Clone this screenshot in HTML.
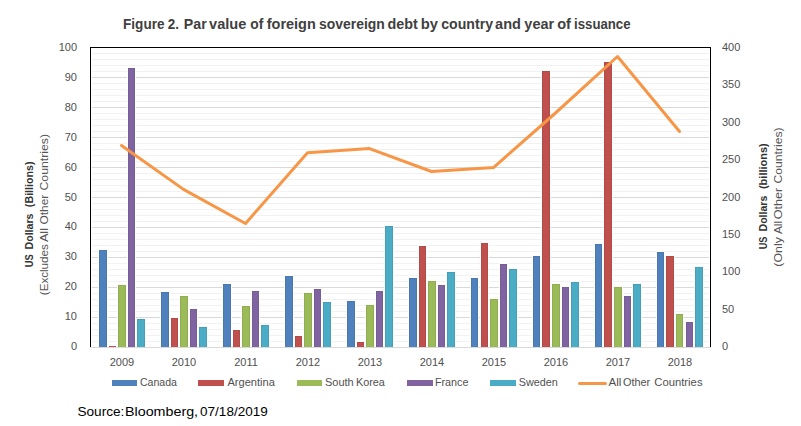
<!DOCTYPE html><html><head><meta charset="utf-8"><style>html,body{margin:0;padding:0;background:#fff;overflow:hidden}svg{display:block}</style></head><body>
<svg width="801" height="426" viewBox="0 0 801 426">
<rect width="801" height="426" fill="#fff"/>
<g shape-rendering="crispEdges"><rect x="92" y="53" width="617" height="1" fill="#F2F2F2"/><rect x="92" y="59" width="617" height="1" fill="#F2F2F2"/><rect x="92" y="65" width="617" height="1" fill="#F2F2F2"/><rect x="92" y="71" width="617" height="1" fill="#F2F2F2"/><rect x="92" y="77" width="617" height="1" fill="#D9D9D9"/><rect x="92" y="83" width="617" height="1" fill="#F2F2F2"/><rect x="92" y="89" width="617" height="1" fill="#F2F2F2"/><rect x="92" y="95" width="617" height="1" fill="#F2F2F2"/><rect x="92" y="101" width="617" height="1" fill="#F2F2F2"/><rect x="92" y="107" width="617" height="1" fill="#D9D9D9"/><rect x="92" y="113" width="617" height="1" fill="#F2F2F2"/><rect x="92" y="119" width="617" height="1" fill="#F2F2F2"/><rect x="92" y="125" width="617" height="1" fill="#F2F2F2"/><rect x="92" y="131" width="617" height="1" fill="#F2F2F2"/><rect x="92" y="137" width="617" height="1" fill="#D9D9D9"/><rect x="92" y="143" width="617" height="1" fill="#F2F2F2"/><rect x="92" y="149" width="617" height="1" fill="#F2F2F2"/><rect x="92" y="155" width="617" height="1" fill="#F2F2F2"/><rect x="92" y="161" width="617" height="1" fill="#F2F2F2"/><rect x="92" y="167" width="617" height="1" fill="#D9D9D9"/><rect x="92" y="173" width="617" height="1" fill="#F2F2F2"/><rect x="92" y="179" width="617" height="1" fill="#F2F2F2"/><rect x="92" y="185" width="617" height="1" fill="#F2F2F2"/><rect x="92" y="191" width="617" height="1" fill="#F2F2F2"/><rect x="92" y="197" width="617" height="1" fill="#D9D9D9"/><rect x="92" y="203" width="617" height="1" fill="#F2F2F2"/><rect x="92" y="209" width="617" height="1" fill="#F2F2F2"/><rect x="92" y="215" width="617" height="1" fill="#F2F2F2"/><rect x="92" y="221" width="617" height="1" fill="#F2F2F2"/><rect x="92" y="227" width="617" height="1" fill="#D9D9D9"/><rect x="92" y="233" width="617" height="1" fill="#F2F2F2"/><rect x="92" y="239" width="617" height="1" fill="#F2F2F2"/><rect x="92" y="245" width="617" height="1" fill="#F2F2F2"/><rect x="92" y="251" width="617" height="1" fill="#F2F2F2"/><rect x="92" y="257" width="617" height="1" fill="#D9D9D9"/><rect x="92" y="263" width="617" height="1" fill="#F2F2F2"/><rect x="92" y="269" width="617" height="1" fill="#F2F2F2"/><rect x="92" y="275" width="617" height="1" fill="#F2F2F2"/><rect x="92" y="281" width="617" height="1" fill="#F2F2F2"/><rect x="92" y="287" width="617" height="1" fill="#D9D9D9"/><rect x="92" y="293" width="617" height="1" fill="#F2F2F2"/><rect x="92" y="299" width="617" height="1" fill="#F2F2F2"/><rect x="92" y="305" width="617" height="1" fill="#F2F2F2"/><rect x="92" y="311" width="617" height="1" fill="#F2F2F2"/><rect x="92" y="317" width="617" height="1" fill="#D9D9D9"/><rect x="92" y="323" width="617" height="1" fill="#F2F2F2"/><rect x="92" y="329" width="617" height="1" fill="#F2F2F2"/><rect x="92" y="335" width="617" height="1" fill="#F2F2F2"/><rect x="92" y="341" width="617" height="1" fill="#F2F2F2"/></g>
<g shape-rendering="crispEdges"><rect x="98" y="249" width="10" height="98" fill="#fff"/><rect x="99" y="250" width="8" height="97" fill="#4977AF"/><rect x="100" y="251" width="6" height="96" fill="#4F81BD"/><rect x="108" y="345" width="9" height="2" fill="#fff"/><rect x="109" y="346" width="7" height="1" fill="#C0504D"/><rect x="117" y="284" width="10" height="63" fill="#fff"/><rect x="118" y="285" width="8" height="62" fill="#90AD52"/><rect x="119" y="286" width="6" height="61" fill="#9BBB59"/><rect x="127" y="67" width="9" height="280" fill="#fff"/><rect x="128" y="68" width="7" height="279" fill="#775D96"/><rect x="129" y="69" width="5" height="278" fill="#8064A2"/><rect x="136" y="318" width="10" height="29" fill="#fff"/><rect x="137" y="319" width="8" height="28" fill="#459FB8"/><rect x="138" y="320" width="6" height="27" fill="#4BACC6"/><rect x="160" y="291" width="10" height="56" fill="#fff"/><rect x="161" y="292" width="8" height="55" fill="#4977AF"/><rect x="162" y="293" width="6" height="54" fill="#4F81BD"/><rect x="170" y="317" width="9" height="30" fill="#fff"/><rect x="171" y="318" width="7" height="29" fill="#B24A47"/><rect x="172" y="319" width="5" height="28" fill="#C0504D"/><rect x="179" y="295" width="10" height="52" fill="#fff"/><rect x="180" y="296" width="8" height="51" fill="#90AD52"/><rect x="181" y="297" width="6" height="50" fill="#9BBB59"/><rect x="189" y="308" width="9" height="39" fill="#fff"/><rect x="190" y="309" width="7" height="38" fill="#775D96"/><rect x="191" y="310" width="5" height="37" fill="#8064A2"/><rect x="198" y="326" width="10" height="21" fill="#fff"/><rect x="199" y="327" width="8" height="20" fill="#459FB8"/><rect x="200" y="328" width="6" height="19" fill="#4BACC6"/><rect x="222" y="283" width="10" height="64" fill="#fff"/><rect x="223" y="284" width="8" height="63" fill="#4977AF"/><rect x="224" y="285" width="6" height="62" fill="#4F81BD"/><rect x="232" y="329" width="9" height="18" fill="#fff"/><rect x="233" y="330" width="7" height="17" fill="#B24A47"/><rect x="234" y="331" width="5" height="16" fill="#C0504D"/><rect x="241" y="305" width="10" height="42" fill="#fff"/><rect x="242" y="306" width="8" height="41" fill="#90AD52"/><rect x="243" y="307" width="6" height="40" fill="#9BBB59"/><rect x="251" y="290" width="9" height="57" fill="#fff"/><rect x="252" y="291" width="7" height="56" fill="#775D96"/><rect x="253" y="292" width="5" height="55" fill="#8064A2"/><rect x="260" y="324" width="10" height="23" fill="#fff"/><rect x="261" y="325" width="8" height="22" fill="#459FB8"/><rect x="262" y="326" width="6" height="21" fill="#4BACC6"/><rect x="284" y="275" width="10" height="72" fill="#fff"/><rect x="285" y="276" width="8" height="71" fill="#4977AF"/><rect x="286" y="277" width="6" height="70" fill="#4F81BD"/><rect x="294" y="335" width="9" height="12" fill="#fff"/><rect x="295" y="336" width="7" height="11" fill="#B24A47"/><rect x="296" y="337" width="5" height="10" fill="#C0504D"/><rect x="303" y="292" width="10" height="55" fill="#fff"/><rect x="304" y="293" width="8" height="54" fill="#90AD52"/><rect x="305" y="294" width="6" height="53" fill="#9BBB59"/><rect x="313" y="288" width="9" height="59" fill="#fff"/><rect x="314" y="289" width="7" height="58" fill="#775D96"/><rect x="315" y="290" width="5" height="57" fill="#8064A2"/><rect x="322" y="301" width="10" height="46" fill="#fff"/><rect x="323" y="302" width="8" height="45" fill="#459FB8"/><rect x="324" y="303" width="6" height="44" fill="#4BACC6"/><rect x="346" y="300" width="10" height="47" fill="#fff"/><rect x="347" y="301" width="8" height="46" fill="#4977AF"/><rect x="348" y="302" width="6" height="45" fill="#4F81BD"/><rect x="356" y="341" width="9" height="6" fill="#fff"/><rect x="357" y="342" width="7" height="5" fill="#B24A47"/><rect x="358" y="343" width="5" height="4" fill="#C0504D"/><rect x="365" y="304" width="10" height="43" fill="#fff"/><rect x="366" y="305" width="8" height="42" fill="#90AD52"/><rect x="367" y="306" width="6" height="41" fill="#9BBB59"/><rect x="375" y="290" width="9" height="57" fill="#fff"/><rect x="376" y="291" width="7" height="56" fill="#775D96"/><rect x="377" y="292" width="5" height="55" fill="#8064A2"/><rect x="384" y="225" width="10" height="122" fill="#fff"/><rect x="385" y="226" width="8" height="121" fill="#459FB8"/><rect x="386" y="227" width="6" height="120" fill="#4BACC6"/><rect x="408" y="277" width="10" height="70" fill="#fff"/><rect x="409" y="278" width="8" height="69" fill="#4977AF"/><rect x="410" y="279" width="6" height="68" fill="#4F81BD"/><rect x="418" y="245" width="9" height="102" fill="#fff"/><rect x="419" y="246" width="7" height="101" fill="#B24A47"/><rect x="420" y="247" width="5" height="100" fill="#C0504D"/><rect x="427" y="280" width="10" height="67" fill="#fff"/><rect x="428" y="281" width="8" height="66" fill="#90AD52"/><rect x="429" y="282" width="6" height="65" fill="#9BBB59"/><rect x="437" y="284" width="9" height="63" fill="#fff"/><rect x="438" y="285" width="7" height="62" fill="#775D96"/><rect x="439" y="286" width="5" height="61" fill="#8064A2"/><rect x="446" y="271" width="10" height="76" fill="#fff"/><rect x="447" y="272" width="8" height="75" fill="#459FB8"/><rect x="448" y="273" width="6" height="74" fill="#4BACC6"/><rect x="470" y="277" width="9" height="70" fill="#fff"/><rect x="471" y="278" width="7" height="69" fill="#4977AF"/><rect x="472" y="279" width="5" height="68" fill="#4F81BD"/><rect x="480" y="242" width="9" height="105" fill="#fff"/><rect x="481" y="243" width="7" height="104" fill="#B24A47"/><rect x="482" y="244" width="5" height="103" fill="#C0504D"/><rect x="489" y="298" width="10" height="49" fill="#fff"/><rect x="490" y="299" width="8" height="48" fill="#90AD52"/><rect x="491" y="300" width="6" height="47" fill="#9BBB59"/><rect x="499" y="263" width="9" height="84" fill="#fff"/><rect x="500" y="264" width="7" height="83" fill="#775D96"/><rect x="501" y="265" width="5" height="82" fill="#8064A2"/><rect x="508" y="268" width="10" height="79" fill="#fff"/><rect x="509" y="269" width="8" height="78" fill="#459FB8"/><rect x="510" y="270" width="6" height="77" fill="#4BACC6"/><rect x="532" y="255" width="9" height="92" fill="#fff"/><rect x="533" y="256" width="7" height="91" fill="#4977AF"/><rect x="534" y="257" width="5" height="90" fill="#4F81BD"/><rect x="541" y="70" width="10" height="277" fill="#fff"/><rect x="542" y="71" width="8" height="276" fill="#B24A47"/><rect x="543" y="72" width="6" height="275" fill="#C0504D"/><rect x="551" y="283" width="10" height="64" fill="#fff"/><rect x="552" y="284" width="8" height="63" fill="#90AD52"/><rect x="553" y="285" width="6" height="62" fill="#9BBB59"/><rect x="561" y="286" width="9" height="61" fill="#fff"/><rect x="562" y="287" width="7" height="60" fill="#775D96"/><rect x="563" y="288" width="5" height="59" fill="#8064A2"/><rect x="570" y="281" width="10" height="66" fill="#fff"/><rect x="571" y="282" width="8" height="65" fill="#459FB8"/><rect x="572" y="283" width="6" height="64" fill="#4BACC6"/><rect x="594" y="243" width="9" height="104" fill="#fff"/><rect x="595" y="244" width="7" height="103" fill="#4977AF"/><rect x="596" y="245" width="5" height="102" fill="#4F81BD"/><rect x="603" y="61" width="10" height="286" fill="#fff"/><rect x="604" y="62" width="8" height="285" fill="#B24A47"/><rect x="605" y="63" width="6" height="284" fill="#C0504D"/><rect x="613" y="286" width="10" height="61" fill="#fff"/><rect x="614" y="287" width="8" height="60" fill="#90AD52"/><rect x="615" y="288" width="6" height="59" fill="#9BBB59"/><rect x="623" y="295" width="9" height="52" fill="#fff"/><rect x="624" y="296" width="7" height="51" fill="#775D96"/><rect x="625" y="297" width="5" height="50" fill="#8064A2"/><rect x="632" y="283" width="10" height="64" fill="#fff"/><rect x="633" y="284" width="8" height="63" fill="#459FB8"/><rect x="634" y="285" width="6" height="62" fill="#4BACC6"/><rect x="656" y="251" width="9" height="96" fill="#fff"/><rect x="657" y="252" width="7" height="95" fill="#4977AF"/><rect x="658" y="253" width="5" height="94" fill="#4F81BD"/><rect x="665" y="255" width="10" height="92" fill="#fff"/><rect x="666" y="256" width="8" height="91" fill="#B24A47"/><rect x="667" y="257" width="6" height="90" fill="#C0504D"/><rect x="675" y="313" width="9" height="34" fill="#fff"/><rect x="676" y="314" width="7" height="33" fill="#90AD52"/><rect x="677" y="315" width="5" height="32" fill="#9BBB59"/><rect x="685" y="321" width="9" height="26" fill="#fff"/><rect x="686" y="322" width="7" height="25" fill="#775D96"/><rect x="687" y="323" width="5" height="24" fill="#8064A2"/><rect x="694" y="266" width="10" height="81" fill="#fff"/><rect x="695" y="267" width="8" height="80" fill="#459FB8"/><rect x="696" y="268" width="6" height="79" fill="#4BACC6"/></g>
<g shape-rendering="crispEdges"><rect x="90" y="347" width="621" height="1" fill="#D9D9D9"/><rect x="90" y="47" width="621" height="1" fill="#000"/><rect x="90" y="47" width="1" height="300" fill="#000"/><rect x="710" y="47" width="1" height="300" fill="#000"/></g>
<polyline points="121.5,145.5 183.5,189.4 245.5,223.5 307.5,152.7 369.5,148.6 431.5,171.5 493.5,167.6 555.5,113 617.5,56.5 679.5,131.5" fill="none" stroke="#F79646" stroke-width="3" stroke-linejoin="round" stroke-linecap="round"/>
<g font-family='"Liberation Sans", sans-serif' font-weight="bold" font-size="14" fill="#404040"><text x="123.09" y="28.5" textLength="41.37" lengthAdjust="spacingAndGlyphs">Figure</text><text x="167.73" y="28.5" textLength="11.19" lengthAdjust="spacingAndGlyphs">2.</text><text x="183.85" y="28.5" textLength="22.87" lengthAdjust="spacingAndGlyphs">Par</text><text x="209.14" y="28.5" textLength="37.26" lengthAdjust="spacingAndGlyphs">value</text><text x="250.26" y="28.5" textLength="13.02" lengthAdjust="spacingAndGlyphs">of</text><text x="266.75" y="28.5" textLength="49.05" lengthAdjust="spacingAndGlyphs">foreign</text><text x="319.0" y="28.5" textLength="65.76" lengthAdjust="spacingAndGlyphs">sovereign</text><text x="387.42" y="28.5" textLength="30.26" lengthAdjust="spacingAndGlyphs">debt</text><text x="420.83" y="28.5" textLength="17.25" lengthAdjust="spacingAndGlyphs">by</text><text x="441.25" y="28.5" textLength="51.73" lengthAdjust="spacingAndGlyphs">country</text><text x="495.07" y="28.5" textLength="25.88" lengthAdjust="spacingAndGlyphs">and</text><text x="524.39" y="28.5" textLength="29.73" lengthAdjust="spacingAndGlyphs">year</text><text x="557.23" y="28.5" textLength="13.74" lengthAdjust="spacingAndGlyphs">of</text><text x="574.08" y="28.5" textLength="56.47" lengthAdjust="spacingAndGlyphs">issuance</text></g>
<text x="77" y="350.0" text-anchor="end" font-family='"Liberation Sans", sans-serif' font-size="11" fill="#505050">0</text>
<text x="77" y="320.1" text-anchor="end" font-family='"Liberation Sans", sans-serif' font-size="11" fill="#505050">10</text>
<text x="77" y="290.2" text-anchor="end" font-family='"Liberation Sans", sans-serif' font-size="11" fill="#505050">20</text>
<text x="77" y="260.3" text-anchor="end" font-family='"Liberation Sans", sans-serif' font-size="11" fill="#505050">30</text>
<text x="77" y="230.4" text-anchor="end" font-family='"Liberation Sans", sans-serif' font-size="11" fill="#505050">40</text>
<text x="77" y="200.5" text-anchor="end" font-family='"Liberation Sans", sans-serif' font-size="11" fill="#505050">50</text>
<text x="77" y="170.6" text-anchor="end" font-family='"Liberation Sans", sans-serif' font-size="11" fill="#505050">60</text>
<text x="77" y="140.7" text-anchor="end" font-family='"Liberation Sans", sans-serif' font-size="11" fill="#505050">70</text>
<text x="77" y="110.8" text-anchor="end" font-family='"Liberation Sans", sans-serif' font-size="11" fill="#505050">80</text>
<text x="77" y="80.9" text-anchor="end" font-family='"Liberation Sans", sans-serif' font-size="11" fill="#505050">90</text>
<text x="77" y="51.0" text-anchor="end" font-family='"Liberation Sans", sans-serif' font-size="11" fill="#505050">100</text>
<text x="722" y="350" font-family='"Liberation Sans", sans-serif' font-size="11" fill="#505050">0</text>
<text x="722" y="313" font-family='"Liberation Sans", sans-serif' font-size="11" fill="#505050">50</text>
<text x="722" y="275" font-family='"Liberation Sans", sans-serif' font-size="11" fill="#505050">100</text>
<text x="722" y="238" font-family='"Liberation Sans", sans-serif' font-size="11" fill="#505050">150</text>
<text x="722" y="201" font-family='"Liberation Sans", sans-serif' font-size="11" fill="#505050">200</text>
<text x="722" y="163" font-family='"Liberation Sans", sans-serif' font-size="11" fill="#505050">250</text>
<text x="722" y="126" font-family='"Liberation Sans", sans-serif' font-size="11" fill="#505050">300</text>
<text x="722" y="88" font-family='"Liberation Sans", sans-serif' font-size="11" fill="#505050">350</text>
<text x="722" y="51" font-family='"Liberation Sans", sans-serif' font-size="11" fill="#505050">400</text>
<text x="122" y="365.8" text-anchor="middle" font-family='"Liberation Sans", sans-serif' font-size="11" fill="#505050">2009</text>
<text x="184" y="365.8" text-anchor="middle" font-family='"Liberation Sans", sans-serif' font-size="11" fill="#505050">2010</text>
<text x="246" y="365.8" text-anchor="middle" font-family='"Liberation Sans", sans-serif' font-size="11" fill="#505050">2011</text>
<text x="308" y="365.8" text-anchor="middle" font-family='"Liberation Sans", sans-serif' font-size="11" fill="#505050">2012</text>
<text x="370" y="365.8" text-anchor="middle" font-family='"Liberation Sans", sans-serif' font-size="11" fill="#505050">2013</text>
<text x="432" y="365.8" text-anchor="middle" font-family='"Liberation Sans", sans-serif' font-size="11" fill="#505050">2014</text>
<text x="494" y="365.8" text-anchor="middle" font-family='"Liberation Sans", sans-serif' font-size="11" fill="#505050">2015</text>
<text x="556" y="365.8" text-anchor="middle" font-family='"Liberation Sans", sans-serif' font-size="11" fill="#505050">2016</text>
<text x="618" y="365.8" text-anchor="middle" font-family='"Liberation Sans", sans-serif' font-size="11" fill="#505050">2017</text>
<text x="680" y="365.8" text-anchor="middle" font-family='"Liberation Sans", sans-serif' font-size="11" fill="#505050">2018</text>
<g transform="translate(32.5,0) rotate(-90)" font-family='"Liberation Sans", sans-serif' font-weight="bold" font-size="11" fill="#333333"><text x="-267.16" y="0" textLength="12.92" lengthAdjust="spacingAndGlyphs">US</text><text x="-249.52" y="0" textLength="36.05" lengthAdjust="spacingAndGlyphs">Dollars</text><text x="-207.13" y="0" textLength="45.66" lengthAdjust="spacingAndGlyphs">(Billions)</text></g>
<g transform="translate(48,0) rotate(-90)" font-family='"Liberation Sans", sans-serif' font-weight="normal" font-size="11" fill="#555555"><text x="-295.22" y="0" textLength="51.04" lengthAdjust="spacingAndGlyphs">(Excludes</text><text x="-242.12" y="0" textLength="14.07" lengthAdjust="spacingAndGlyphs">All</text><text x="-224.56" y="0" textLength="29.76" lengthAdjust="spacingAndGlyphs">Other</text><text x="-190.52" y="0" textLength="56.58" lengthAdjust="spacingAndGlyphs">Countries)</text></g>
<g transform="translate(766.5,0) rotate(-90)" font-family='"Liberation Sans", sans-serif' font-weight="bold" font-size="11" fill="#333333"><text x="-249.35" y="0" textLength="12.81" lengthAdjust="spacingAndGlyphs">US</text><text x="-231.41" y="0" textLength="35.64" lengthAdjust="spacingAndGlyphs">Dollars</text><text x="-189.05" y="0" textLength="45.8" lengthAdjust="spacingAndGlyphs">(billions)</text></g>
<g transform="translate(782,0) rotate(-90)" font-family='"Liberation Sans", sans-serif' font-weight="normal" font-size="11" fill="#555555"><text x="-266.67" y="0" textLength="29.59" lengthAdjust="spacingAndGlyphs">(Only</text><text x="-234.12" y="0" textLength="13.22" lengthAdjust="spacingAndGlyphs">All</text><text x="-219.19" y="0" textLength="31.4" lengthAdjust="spacingAndGlyphs">Other</text><text x="-183.42" y="0" textLength="55.97" lengthAdjust="spacingAndGlyphs">Countries)</text></g>
<rect x="112" y="380" width="25" height="6" fill="#4F81BD"/>
<rect x="198" y="380" width="26" height="6" fill="#C0504D"/>
<rect x="297" y="380" width="25" height="6" fill="#9BBB59"/>
<rect x="407" y="380" width="26" height="6" fill="#8064A2"/>
<rect x="490" y="380" width="26" height="6" fill="#4BACC6"/>
<line x1="579.5" y1="383.5" x2="605.5" y2="383.5" stroke="#F79646" stroke-width="3" stroke-linecap="round"/>
<g font-family='"Liberation Sans", sans-serif' font-size="11" fill="#505050"><text x="139.96" y="386" textLength="37.04" lengthAdjust="spacingAndGlyphs">Canada</text><text x="227.48" y="386" textLength="47.42" lengthAdjust="spacingAndGlyphs">Argentina</text><text x="325.0" y="386" textLength="28.71" lengthAdjust="spacingAndGlyphs">South</text><text x="355.91" y="386" textLength="28.98" lengthAdjust="spacingAndGlyphs">Korea</text><text x="434.92" y="386" textLength="33.56" lengthAdjust="spacingAndGlyphs">France</text><text x="518.71" y="386" textLength="39.1" lengthAdjust="spacingAndGlyphs">Sweden</text><text x="608.48" y="386" textLength="12.9" lengthAdjust="spacingAndGlyphs">All</text><text x="622.99" y="386" textLength="27.19" lengthAdjust="spacingAndGlyphs">Other</text><text x="654.33" y="386" textLength="48.18" lengthAdjust="spacingAndGlyphs">Countries</text></g>
<g font-family='"Liberation Sans", sans-serif' font-size="13" fill="#000"><text x="77.48" y="416" textLength="46.86" lengthAdjust="spacingAndGlyphs">Source:</text><text x="125.02" y="416" textLength="73.06" lengthAdjust="spacingAndGlyphs">Bloomberg,</text><text x="200.07" y="416" textLength="67.68" lengthAdjust="spacingAndGlyphs">07/18/2019</text></g>
</svg></body></html>
